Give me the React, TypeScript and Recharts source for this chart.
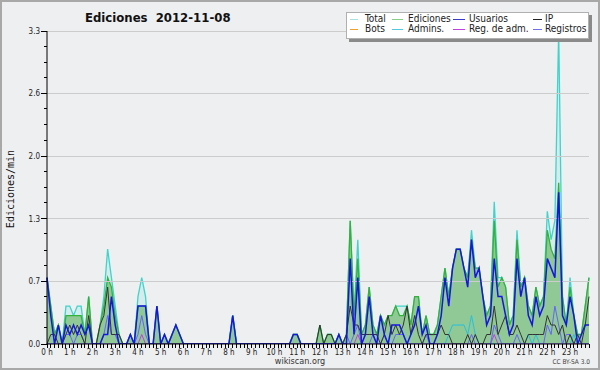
import React from "react";
import { ComposedChart, Area, Line, XAxis, YAxis, ReferenceLine } from "recharts";

// 10-minute bins, 144 per day, values in edits/min
const X_LABELS = [
  "0 h", "1 h", "2 h", "3 h", "4 h", "5 h", "6 h", "7 h", "8 h", "9 h", "10 h", "11 h",
  "12 h", "13 h", "14 h", "15 h", "16 h", "17 h", "18 h", "19 h", "20 h", "21 h", "22 h", "23 h",
];
const Y_MAJOR = [0, 0.66, 1.32, 1.98, 2.64, 3.3];
const Y_LABELS = ["0.0", "0.7", "1.3", "2.0", "2.6", "3.3"];

const TOTAL = [
  0.7, 0.4, 0.1, 0.2, 0, 0.4, 0.4, 0.3, 0.4, 0.4, 0.1, 0.5,
  0, 0, 0.2, 0.5, 1.0, 0.7, 0.4, 0.1, 0, 0, 0.1, 0,
  0.5, 0.7, 0.5, 0, 0, 0.4, 0, 0.1, 0, 0.1, 0.2, 0.1,
  0, 0, 0, 0, 0, 0, 0, 0, 0, 0, 0, 0,
  0, 0.3, 0, 0, 0, 0, 0, 0, 0, 0, 0, 0,
  0, 0, 0, 0, 0, 0.1, 0.1, 0, 0, 0, 0, 0,
  0.2, 0, 0.1, 0.1, 0, 0.1, 0, 0.1, 1.3, 0.3, 1.1, 0.1,
  0.2, 0.6, 0.2, 0.1, 0.3, 0.2, 0.3, 0.3, 0.4, 0.4, 0.4, 0.4,
  0.2, 0.5, 0.5, 0.1, 0.3, 0.1, 0.1, 0.2, 0.5, 0.8, 0.5, 0.8,
  1.0, 1.0, 0.8, 0.7, 1.2, 0.8, 0.8, 0.5, 0.3, 0.4, 1.5, 0.7,
  0.7, 0.6, 0.2, 0.3, 1.2, 0.6, 0.7, 0.4, 0.3, 0.6, 0.4, 0.5,
  1.4, 1.1, 1.3, 3.3, 0.5, 0.2, 0.7, 0.3, 0.1, 0.1, 0.4, 0.7,
];
const EDICIONES = [
  0.7, 0.4, 0.1, 0.2, 0, 0.3, 0.3, 0.3, 0.3, 0.3, 0.1, 0.5,
  0, 0, 0.2, 0.4, 0.7, 0.6, 0.3, 0.1, 0, 0, 0.1, 0,
  0.4, 0.4, 0.4, 0, 0, 0.4, 0, 0.1, 0, 0.1, 0.2, 0.1,
  0, 0, 0, 0, 0, 0, 0, 0, 0, 0, 0, 0,
  0, 0.3, 0, 0, 0, 0, 0, 0, 0, 0, 0, 0,
  0, 0, 0, 0, 0, 0.1, 0.1, 0, 0, 0, 0, 0,
  0.2, 0, 0.1, 0.1, 0, 0.1, 0, 0.1, 1.3, 0.3, 0.9, 0.1,
  0.2, 0.6, 0.2, 0.1, 0.3, 0.2, 0.3, 0.3, 0.4, 0.3, 0.3, 0.4,
  0.2, 0.5, 0.5, 0.1, 0.3, 0.1, 0.1, 0.2, 0.5, 0.8, 0.5, 0.8,
  1.0, 1.0, 0.8, 0.7, 1.1, 0.8, 0.8, 0.5, 0.3, 0.4, 1.3, 0.6,
  0.7, 0.6, 0.2, 0.3, 1.1, 0.6, 0.7, 0.4, 0.3, 0.6, 0.4, 0.5,
  1.2, 1.0, 0.9, 1.7, 0.5, 0.2, 0.6, 0.3, 0.1, 0.1, 0.4, 0.7,
];
const USUARIOS = [
  0.7, 0.3, 0, 0.2, 0, 0.2, 0.1, 0.2, 0.1, 0.2, 0.1, 0.2,
  0, 0, 0, 0.1, 0.1, 0.5, 0.2, 0, 0, 0, 0.1, 0,
  0.4, 0.4, 0.4, 0, 0, 0.4, 0, 0.1, 0, 0.1, 0.2, 0.1,
  0, 0, 0, 0, 0, 0, 0, 0, 0, 0, 0, 0,
  0, 0.3, 0, 0, 0, 0, 0, 0, 0, 0, 0, 0,
  0, 0, 0, 0, 0, 0.1, 0.1, 0, 0, 0, 0, 0,
  0, 0, 0, 0, 0, 0.1, 0, 0, 0.9, 0.1, 0.7, 0,
  0.1, 0.5, 0.1, 0, 0.3, 0.1, 0, 0.2, 0.2, 0.2, 0.1, 0,
  0.1, 0.2, 0.4, 0.1, 0.2, 0, 0, 0.1, 0.3, 0.7, 0.4, 0.8,
  1.0, 1.0, 0.8, 0.6, 1.1, 0.7, 0.8, 0.5, 0.2, 0.3, 0.9, 0.5,
  0.5, 0.3, 0.1, 0.2, 0.9, 0.5, 0.7, 0.3, 0.2, 0.5, 0.3, 0.4,
  0.9, 0.8, 0.7, 1.6, 0.3, 0.2, 0.5, 0.3, 0, 0.1, 0.2, 0.2,
];
const IP = [
  0, 0.1, 0.1, 0, 0, 0.1, 0.2, 0.1, 0.2, 0.1, 0, 0.3,
  0, 0, 0.2, 0.3, 0.6, 0.1, 0.1, 0.1, 0, 0, 0, 0,
  0, 0, 0, 0, 0, 0, 0, 0, 0, 0, 0, 0,
  0, 0, 0, 0, 0, 0, 0, 0, 0, 0, 0, 0,
  0, 0, 0, 0, 0, 0, 0, 0, 0, 0, 0, 0,
  0, 0, 0, 0, 0, 0, 0, 0, 0, 0, 0, 0,
  0.2, 0, 0.1, 0.1, 0, 0, 0, 0.1, 0.4, 0.2, 0.2, 0.1,
  0.1, 0.1, 0.1, 0.1, 0, 0.1, 0.3, 0.1, 0.2, 0.1, 0.2, 0.4,
  0.1, 0.3, 0.1, 0, 0.1, 0.1, 0.1, 0.1, 0.2, 0.1, 0.1, 0,
  0, 0, 0, 0.1, 0, 0.1, 0, 0, 0.1, 0.1, 0.4, 0.1,
  0.2, 0.3, 0.1, 0.1, 0.2, 0.1, 0, 0.1, 0.1, 0.1, 0.1, 0.1,
  0.3, 0.2, 0.2, 0.1, 0.2, 0, 0.1, 0, 0.1, 0, 0.2, 0.5,
];
const ADMINS = [
  0, 0, 0, 0, 0, 0, 0, 0, 0, 0, 0, 0,
  0, 0, 0, 0, 0, 0, 0, 0, 0, 0, 0, 0,
  0, 0, 0, 0, 0, 0, 0, 0, 0, 0, 0, 0,
  0, 0, 0, 0, 0, 0, 0, 0, 0, 0, 0, 0,
  0, 0.3, 0, 0, 0, 0, 0, 0, 0, 0, 0, 0,
  0, 0, 0, 0, 0, 0, 0, 0, 0, 0, 0, 0,
  0, 0, 0, 0, 0, 0.1, 0, 0, 0, 0, 0, 0,
  0, 0, 0, 0, 0, 0, 0, 0, 0, 0, 0, 0,
  0, 0, 0, 0, 0, 0, 0, 0, 0, 0, 0.1, 0.2,
  0.2, 0.2, 0.2, 0.1, 0.3, 0.1, 0, 0, 0, 0, 0, 0,
  0, 0, 0, 0, 0, 0, 0, 0.1, 0, 0.1, 0, 0,
  0, 0, 0, 0, 0, 0, 0, 0.1, 0, 0, 0, 0,
];
const REGISTROS = [
  0, 0, 0, 0, 0, 0.1, 0.1, 0, 0.1, 0.1, 0, 0,
  0, 0, 0, 0.1, 0.3, 0.1, 0.1, 0, 0, 0, 0, 0,
  0.1, 0.3, 0.1, 0, 0, 0, 0, 0, 0, 0, 0, 0,
  0, 0, 0, 0, 0, 0, 0, 0, 0, 0, 0, 0,
  0, 0, 0, 0, 0, 0, 0, 0, 0, 0, 0, 0,
  0, 0, 0, 0, 0, 0, 0, 0, 0, 0, 0, 0,
  0, 0, 0, 0, 0, 0, 0, 0.1, 0, 0.1, 0.2, 0,
  0, 0, 0.1, 0, 0, 0.1, 0, 0, 0.1, 0.1, 0.1, 0,
  0, 0, 0, 0, 0.1, 0, 0, 0, 0, 0, 0, 0,
  0, 0, 0, 0, 0.1, 0, 0, 0, 0, 0, 0.2, 0.1,
  0, 0, 0, 0, 0.1, 0, 0, 0, 0, 0, 0, 0,
  0.2, 0.1, 0.4, 0.2, 0, 0.1, 0.1, 0, 0, 0, 0, 0,
];
const REG_ADM = [
  0, 0, 0, 0, 0, 0, 0, 0, 0, 0, 0, 0,
  0, 0, 0, 0, 0, 0, 0, 0, 0, 0, 0, 0,
  0, 0.1, 0, 0, 0, 0, 0, 0, 0, 0, 0, 0,
  0, 0, 0, 0, 0, 0, 0, 0, 0, 0, 0, 0,
  0, 0, 0, 0, 0, 0, 0, 0, 0, 0, 0, 0,
  0, 0, 0, 0, 0, 0, 0, 0, 0, 0, 0, 0,
  0, 0, 0, 0, 0, 0, 0, 0, 0, 0, 0.1, 0,
  0, 0, 0, 0, 0, 0, 0, 0, 0, 0, 0, 0,
  0, 0, 0, 0, 0, 0, 0, 0, 0, 0, 0, 0,
  0, 0, 0, 0, 0, 0, 0, 0, 0, 0, 0.1, 0,
  0, 0, 0, 0, 0, 0, 0, 0, 0, 0, 0, 0,
  0, 0, 0, 0, 0, 0, 0, 0, 0, 0, 0, 0,
];

const LEGEND = [
  { name: "Total", color: "#a6e2de" },
  { name: "Ediciones", color: "#86d086" },
  { name: "Usuarios", color: "#3a3acc" },
  { name: "IP", color: "#222222" },
  { name: "Bots", color: "#f0a030" },
  { name: "Admins.", color: "#50c8e0" },
  { name: "Reg. de adm.", color: "#c040e0" },
  { name: "Registros", color: "#7070e8" },
];

const data = TOTAL.map((v, i) => ({
  t: i,
  total: v,
  ediciones: EDICIONES[i],
  usuarios: USUARIOS[i],
  ip: IP[i],
  admins: ADMINS[i],
  registros: REGISTROS[i],
  regAdm: REG_ADM[i],
}));

const xTicks = data.map(d => d.t);
const yTicks: number[] = [];
for (let k = 0; k <= 20; k++) yTicks.push(Math.round(k * 16.5) / 100);

const FONT = "'DejaVu Sans Condensed', 'Liberation Sans', sans-serif";

function XTick({ x, y, payload }: any) {
  const t = payload.value;
  return (
    <g>
      <line x1={x} x2={x} y1={y} y2={y + 4} stroke="#000" shapeRendering="crispEdges" />
      {t % 6 === 0 && (
        <text x={x} y={y + 11} textAnchor="middle" fontSize={8} fill="#222" fontFamily={FONT}>
          {X_LABELS[t / 6]}
        </text>
      )}
    </g>
  );
}

function YTick({ x, y, index }: any) {
  const major = index % 4 === 0;
  return (
    <g>
      <line x1={x - (major ? 6 : 3)} x2={x} y1={y} y2={y} stroke="#000" shapeRendering="crispEdges" />
      {major && (
        <text x={x - 7} y={y} dy="0.35em" textAnchor="end" fontSize={8} fill="#222" fontFamily={FONT}>
          {Y_LABELS[index / 4]}
        </text>
      )}
    </g>
  );
}

export default function App() {
  return (
    <div style={{ position: "absolute", left: 0, top: 0, width: 600, height: 370, background: "#eeeff1", overflow: "hidden" }}>
      <ComposedChart width={600} height={370} data={data} margin={{ top: 31, right: 11, bottom: 0, left: 0 }}>
        {Y_MAJOR.slice(1).map(v => (
          <ReferenceLine key={v} y={v} stroke="#cccccc" strokeWidth={1} shapeRendering="crispEdges" />
        ))}
        <Area type="linear" dataKey="total" stroke="#3ed4cc" strokeWidth={1.3} fill="#3ed4cc" fillOpacity={0.14} dot={false} activeDot={false} isAnimationActive={false} />
        <Area type="linear" dataKey="ediciones" stroke="#33b23a" strokeWidth={1.3} fill="#90c896" fillOpacity={1} dot={false} activeDot={false} isAnimationActive={false} />
        <Line type="linear" dataKey="admins" stroke="#22c2e2" strokeWidth={1} dot={false} activeDot={false} isAnimationActive={false} />
        <Line type="linear" dataKey="regAdm" stroke="#c040e0" strokeWidth={1} dot={false} activeDot={false} isAnimationActive={false} />
        <Line type="linear" dataKey="registros" stroke="#6464ff" strokeWidth={1} dot={false} activeDot={false} isAnimationActive={false} />
        <Line type="linear" dataKey="ip" stroke="#333333" strokeWidth={1} dot={false} activeDot={false} isAnimationActive={false} />
        <Line type="linear" dataKey="usuarios" stroke="#1616e0" strokeWidth={1.5} dot={false} activeDot={false} isAnimationActive={false} />
        <XAxis dataKey="t" type="number" domain={[0, 143]} ticks={xTicks} interval={0} tick={<XTick />} tickLine={false} tickSize={0} tickMargin={0} height={26} axisLine={{ stroke: "#000" }} />
        <YAxis type="number" domain={[0, 3.3]} ticks={yTicks} interval={0} tick={<YTick />} tickLine={false} tickSize={0} tickMargin={0} width={47} axisLine={{ stroke: "#000" }} allowDataOverflow />
      </ComposedChart>

      {/* title */}
      <div style={{ position: "absolute", left: 85, top: 10, fontFamily: FONT, fontWeight: "bold", fontSize: 13, color: "#111", whiteSpace: "pre" }}>
        {"Ediciones  2012-11-08"}
      </div>

      {/* y label */}
      <div style={{ position: "absolute", left: 10, top: 189, transform: "translate(-50%, -50%) rotate(-90deg)", fontFamily: "'DejaVu Sans Mono', monospace", fontSize: 10, color: "#111", whiteSpace: "nowrap" }}>
        Ediciones/min
      </div>

      {/* legend */}
      <div style={{ position: "absolute", left: 346, top: 12, width: 241, height: 25, background: "#ffffff", border: "1px solid #b0b0b0", boxShadow: "3px 3px 0 #8a8a8a" }} />
      {LEGEND.map((item, k) => {
        const col = k % 4;
        const row = Math.floor(k / 4);
        const lineX = [350, 392, 453, 533][col];
        const lineW = [8, 11, 12, 9][col];
        const textX = [365, 408, 469, 545][col];
        const cy = row === 0 ? 19 : 29;
        return (
          <React.Fragment key={item.name}>
            <div style={{ position: "absolute", left: lineX, top: cy, width: lineW, height: 1, background: item.color }} />
            <div style={{ position: "absolute", left: textX, top: cy - 6, fontFamily: FONT, fontSize: 10, lineHeight: "12px", color: "#222", whiteSpace: "nowrap" }}>
              {item.name}
            </div>
          </React.Fragment>
        );
      })}

      {/* footer */}
      <div style={{ position: "absolute", left: 300, top: 356, transform: "translateX(-50%)", fontFamily: FONT, fontSize: 9, color: "#333", whiteSpace: "nowrap" }}>
        wikiscan.org
      </div>
      <div style={{ position: "absolute", right: 10, top: 358, fontFamily: FONT, fontSize: 6.5, color: "#444", whiteSpace: "nowrap" }}>
        CC BY-SA 3.0
      </div>

      {/* frame */}
      <div style={{ position: "absolute", left: 0, top: 0, width: 600, height: 370, boxSizing: "border-box", border: "2px solid #a8a8a8", pointerEvents: "none" }} />
    </div>
  );
}
